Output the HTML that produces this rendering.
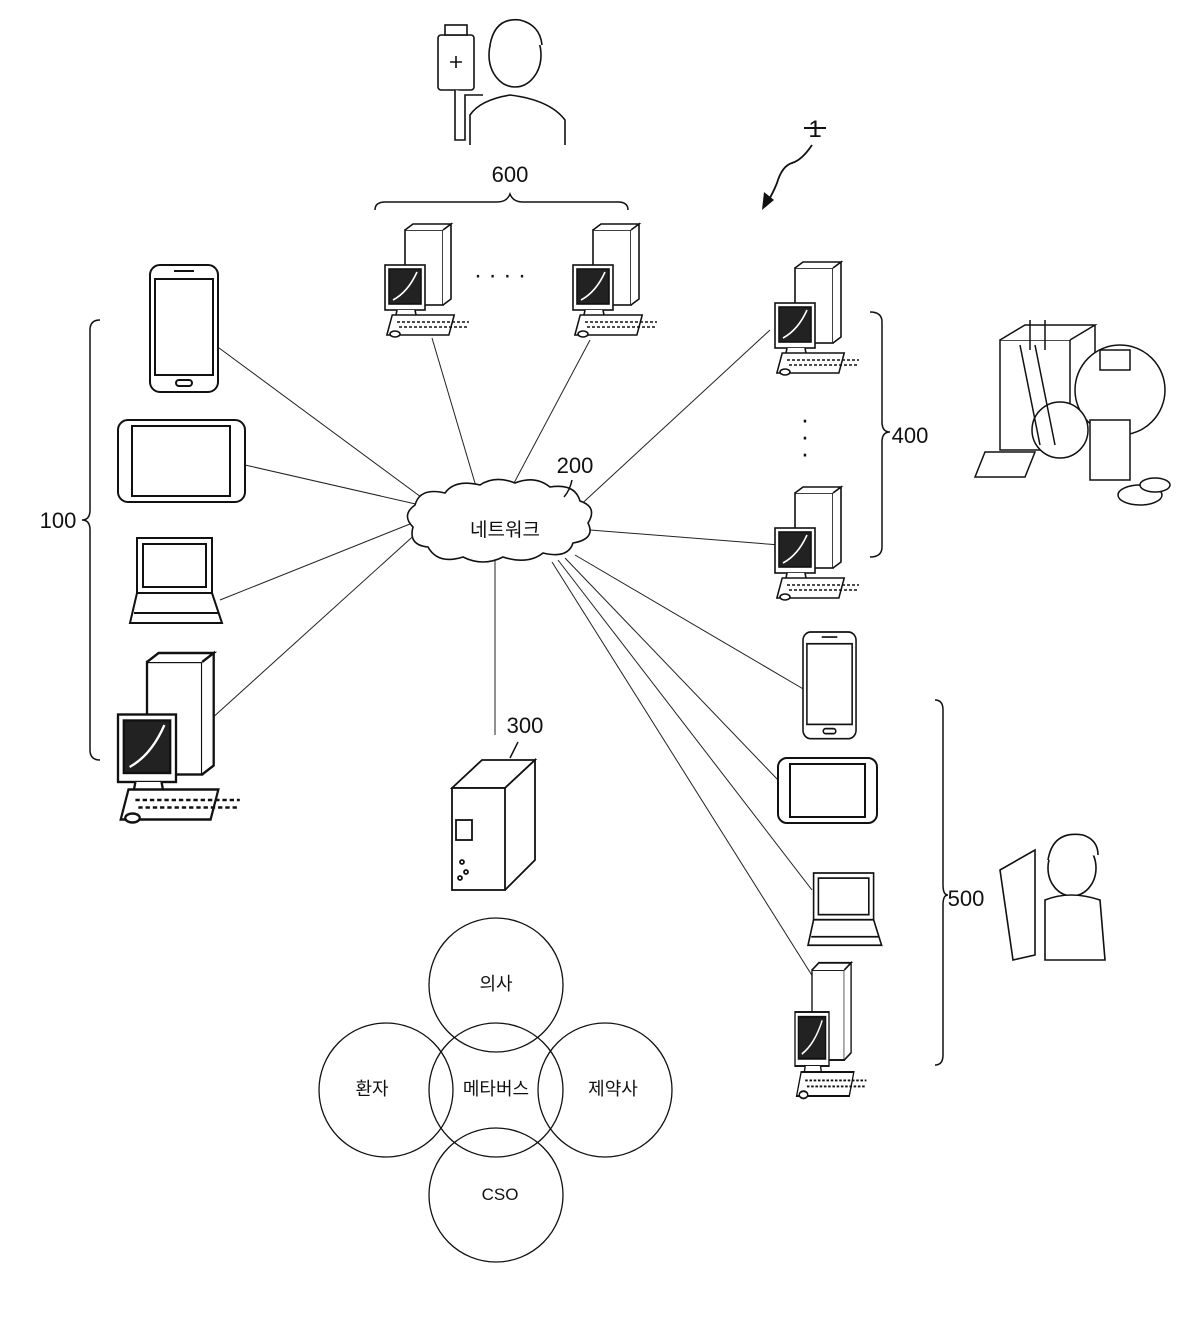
<!DOCTYPE html>
<html><head><meta charset="utf-8"><style>
html,body{margin:0;padding:0;background:#fff;}
svg{display:block;}
text{font-family:"Liberation Sans","Noto Sans CJK KR",sans-serif;fill:#111;}
</style></head><body>
<svg width="1200" height="1321" viewBox="0 0 1200 1321" xmlns="http://www.w3.org/2000/svg">
<defs>
<g id="pc" fill="#fff" stroke="#111" stroke-width="1.6">
  <rect x="20" y="0" width="38" height="75" />
  <path d="M20 0 l8 -6 h38 l-8 6 M58 0 l8 -6 v75 l-8 6"/>
  <rect x="0" y="35" width="40" height="45" fill="#fff"/>
  <rect x="4" y="39" width="32" height="35" fill="#222"/>
  <path d="M8 70 q15 -8 24 -28" stroke="#fff" fill="none"/>
  <path d="M12 80 l-2 10 h22 l-2 -10" />
  <rect x="30" y="85" width="62" height="20" transform="skewX(-15)" />
  <path d="M12 92 h72 M14 97 h70" stroke-dasharray="3 2"/>
  <ellipse cx="10" cy="104" rx="5" ry="3"/>
</g>
<g id="phone" fill="#fff" stroke="#111" stroke-width="2">
  <rect x="0" y="0" width="68" height="127" rx="10"/>
  <rect x="5" y="14" width="58" height="96" fill="#fff"/>
  <rect x="26" y="115" width="16" height="6" rx="3"/>
  <path d="M24 6 h20"/>
</g>
<g id="lap" fill="#fff" stroke="#111" stroke-width="2">
  <rect x="7" y="0" width="75" height="55"/>
  <rect x="13" y="6" width="63" height="43"/>
  <path d="M7 55 l-7 30 h92 l-10 -30 z"/>
  <path d="M4 75 h84" />
</g>
</defs>

<g stroke="#222" stroke-width="1" fill="none">
<line x1="425" y1="500" x2="215" y2="345"/>
<line x1="420" y1="505" x2="245" y2="465"/>
<line x1="420" y1="520" x2="220" y2="600"/>
<line x1="420" y1="530" x2="210" y2="720"/>
<line x1="480" y1="500" x2="432" y2="338"/>
<line x1="505" y1="500" x2="590" y2="340"/>
<line x1="575" y1="510" x2="770" y2="330"/>
<line x1="590" y1="530" x2="780" y2="545"/>
<line x1="495" y1="560" x2="495" y2="735"/>
<line x1="575" y1="555" x2="805" y2="690"/>
<line x1="565" y1="558" x2="778" y2="780"/>
<line x1="558" y1="560" x2="812" y2="890"/>
<line x1="552" y1="562" x2="818" y2="985"/>
</g>

<path d="M415 505 q5 -18 30 -12 q10 -14 35 -8 q15 -10 35 -2 q20 -8 35 4 q25 -4 30 14 q18 6 8 22 q8 16 -15 20 q-5 16 -30 10 q-15 12 -40 4 q-20 10 -40 0 q-25 8 -35 -10 q-20 -2 -15 -20 q-12 -12 2 -22z" fill="#fff" stroke="#111" stroke-width="1.6"/>
<text x="505" y="536" font-size="19" text-anchor="middle">네트워크</text>
<text x="575" y="473" font-size="22" text-anchor="middle">200</text>
<path d="M572 480 q-2 10 -8 17" stroke="#111" fill="none" stroke-width="1.5"/>

<use href="#phone" x="150" y="265"/>
<g fill="#fff" stroke="#111" stroke-width="2">
<rect x="118" y="420" width="127" height="82" rx="10"/>
<rect x="132" y="426" width="98" height="70"/>
</g>
<use href="#lap" x="130" y="538"/>
<use href="#pc" transform="translate(118 662) scale(1.45 1.5)"/>
<path d="M100 320 q-10 0 -10 10 v180 q0 10 -8 10 q8 0 8 10 v220 q0 10 10 10" stroke="#111" fill="none" stroke-width="1.5"/>
<text x="58" y="528" font-size="22" text-anchor="middle">100</text>

<use href="#pc" transform="translate(385 230)"/>
<use href="#pc" transform="translate(573 230)"/>
<text x="500" y="283" font-size="24" text-anchor="middle">· · · ·</text>
<path d="M375 210 q0 -8 10 -8 h112 q10 0 13 -8 q3 8 13 8 h95 q10 0 10 8" stroke="#111" fill="none" stroke-width="1.5"/>
<text x="510" y="182" font-size="22" text-anchor="middle">600</text>
<g fill="#fff" stroke="#111" stroke-width="1.6">
<path d="M470 145 v-30 q10 -15 40 -20 q40 5 55 25 v25"/>
<ellipse cx="515" cy="55" rx="26" ry="32"/>
<path d="M490 45 q5 -28 30 -25 q20 5 22 25"/>
<rect x="438" y="35" width="36" height="55" rx="3"/>
<rect x="445" y="25" width="22" height="10"/>
<path d="M450 62 h12 M456 56 v12"/>
<path d="M455 90 v50 h10 v-45 h18"/>
</g>

<text x="815" y="137" font-size="24" text-anchor="middle">1</text>
<line x1="804" y1="128" x2="826" y2="128" stroke="#111" stroke-width="2"/>
<path d="M812 145 q-10 15 -20 18 q-10 3 -15 20 q-4 10 -10 20" stroke="#111" fill="none" stroke-width="1.8"/>
<path d="M762 210 l2 -18 l10 8 z" fill="#111"/>

<use href="#pc" transform="translate(775 268)"/>
<use href="#pc" transform="translate(775 493)"/>
<text x="805" y="428" font-size="26" text-anchor="middle">·</text>
<text x="805" y="445" font-size="26" text-anchor="middle">·</text>
<text x="805" y="462" font-size="26" text-anchor="middle">·</text>
<path d="M870 312 q12 0 12 10 v100 q0 10 8 10 q-8 0 -8 10 v105 q0 10 -12 10" stroke="#111" fill="none" stroke-width="1.5"/>
<text x="910" y="443" font-size="22" text-anchor="middle">400</text>
<g fill="#fff" stroke="#111" stroke-width="1.5">
<rect x="1000" y="340" width="70" height="110"/>
<path d="M1000 340 l25 -15 h70 l-25 15 M1095 325 v110"/>
<circle cx="1120" cy="390" r="45"/>
<rect x="1100" y="350" width="30" height="20"/>
<circle cx="1060" cy="430" r="28"/>
<rect x="1090" y="420" width="40" height="60"/>
<path d="M985 452 h50 l-10 25 h-50 z"/>
<ellipse cx="1140" cy="495" rx="22" ry="10"/>
<ellipse cx="1155" cy="485" rx="15" ry="7"/>
<path d="M1030 320 v30 M1045 320 v30 M1020 345 l20 100 M1035 345 l20 100"/>
</g>

<g fill="#fff" stroke="#111" stroke-width="1.8">
<path d="M452 788 l30 -28 h53 l-30 28 z"/>
<path d="M505 788 l30 -28 v100 l-30 30"/>
<rect x="452" y="788" width="53" height="102"/>
<rect x="456" y="820" width="16" height="20"/>
<circle cx="462" cy="862" r="2"/><circle cx="466" cy="872" r="2"/><circle cx="460" cy="878" r="2"/>
</g>
<text x="525" y="733" font-size="22" text-anchor="middle">300</text>
<path d="M518 742 l-8 16" stroke="#111" stroke-width="1.5"/>

<use href="#phone" transform="translate(803 632) scale(0.78 0.84)"/>
<g fill="#fff" stroke="#111" stroke-width="2">
<rect x="778" y="758" width="99" height="65" rx="9"/>
<rect x="790" y="764" width="75" height="53"/>
</g>
<use href="#lap" transform="translate(808 873) scale(0.8 0.85)"/>
<use href="#pc" transform="translate(795 970) scale(0.85 1.2)"/>
<path d="M935 700 q8 0 8 10 v175 q0 10 5 10 q-5 0 -5 10 v150 q0 10 -8 10" stroke="#111" fill="none" stroke-width="1.5"/>
<text x="966" y="906" font-size="22" text-anchor="middle">500</text>
<g fill="#fff" stroke="#111" stroke-width="1.6">
<path d="M1000 870 l35 -20 v105 l-22 5 z"/>
<ellipse cx="1072" cy="868" rx="24" ry="28"/>
<path d="M1048 860 q5 -30 35 -25 q15 5 15 20"/>
<path d="M1045 900 q25 -10 55 0 l5 60 h-60 z"/>
</g>

<g fill="none" stroke="#111" stroke-width="1.3">
<circle cx="496" cy="985" r="67"/>
<circle cx="386" cy="1090" r="67"/>
<circle cx="605" cy="1090" r="67"/>
<circle cx="496" cy="1195" r="67"/>
<circle cx="496" cy="1090" r="67"/>
</g>
<text x="496" y="990" font-size="18" text-anchor="middle">의사</text>
<text x="372" y="1095" font-size="18" text-anchor="middle">환자</text>
<text x="496" y="1095" font-size="18" text-anchor="middle">메타버스</text>
<text x="613" y="1095" font-size="18" text-anchor="middle">제약사</text>
<text x="500" y="1200" font-size="17" text-anchor="middle">CSO</text>
</svg>
</body></html>
